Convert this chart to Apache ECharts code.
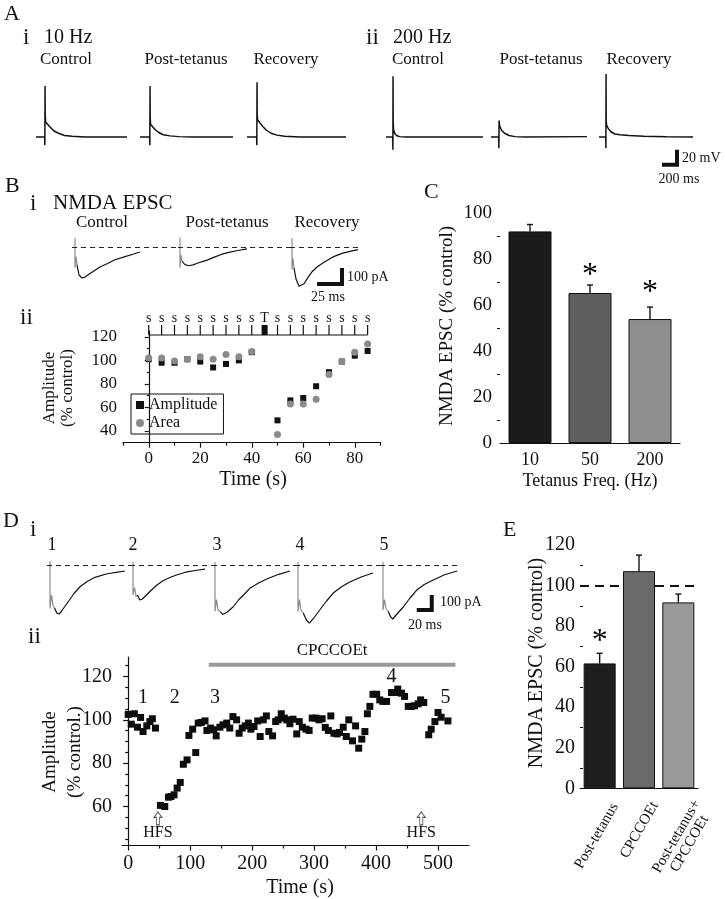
<!DOCTYPE html>
<html><head><meta charset="utf-8">
<script src="https://cdn.jsdelivr.net/npm/echarts@6.0.0/dist/echarts.min.js"></script>
<style>html,body{margin:0;padding:0;background:#fff;}#chart{width:725px;height:899px;}</style>
</head><body><div id="chart"></div>
<script>
// ================= DATA =================
// Panel A: membrane potential traces, [time (ms) from trace start, mV relative to rest]
const a10Control = [[0,0],[116,0],[118,-11],[120,-11],[121,68],[123,30],[128,20],[150,18],[190,13],[240,8],[300,5],[380,2],[480,1],[650,0],[1213,0]];
const a10Post    = [[0,0],[128,0],[131,-11],[133,-11],[134,68],[136,26],[141,17],[165,14],[200,10],[250,6],[310,3],[400,1.5],[520,0.5],[700,0],[1240,0]];
const a10Recov   = [[0,0],[128,0],[131,-11],[133,-11],[134,73],[136,30],[141,23],[170,19],[210,14],[260,9],[320,5],[400,2.5],[500,1],[700,0],[1320,0]];
const a200Control= [[0,0],[90,0],[92,-17],[93,-17],[94,81],[96,20],[100,10],[115,5],[140,2],[180,0.5],[260,0],[1293,0]];
const a200Post   = [[0,0],[103,0],[105,-15],[107,-15],[108,22],[115,15],[140,9],[180,5],[240,2],[320,0.5],[450,0],[1280,0.5]];
const a200Recov  = [[0,0],[90,0],[92,-15],[93,-15],[94,84],[96,22],[101,16],[125,11],[160,7],[210,4],[280,3],[400,2],[600,1],[900,0.3],[1253,0]];
const aScaleBar  = [[840,-37],[1040,-37],[1040,-17]]; // 200 ms, 20 mV

// Panel B i: NMDA EPSC traces, [ms from stimulus, pA]
const bCtrlArtifact = [[0,55],[0,-130],[1,-60],[2,-110]];
const bCtrlTrace    = [[2,-110],[4,-175],[7,-194],[10,-188],[15,-165],[20,-145],[25,-125],[32,-105],[40,-80],[50,-60],[58,-45],[65,-31]];
const bPostArtifact = [[0,60],[0,-130],[1,-50],[2,-90]];
const bPostTrace    = [[2,-90],[5,-110],[9,-117],[13,-112],[18,-100],[23,-90],[25,-95],[27,-82],[35,-62],[42,-45],[50,-32],[58,-22],[67,-12]];
const bRecArtifact  = [[0,55],[0,-140],[1,-70],[2,-130]];
const bRecTrace     = [[2,-130],[4,-200],[7,-245],[9,-250],[12,-230],[16,-190],[20,-155],[25,-125],[32,-95],[41,-62],[50,-40],[58,-27],[66,-16]];
const bScaleBar     = [[25,-231],[50,-231],[50,-131]]; // 25 ms, 100 pA

// Panel B ii
const bTimes     = [0,5,10,15,20,25,30,35,40,50,55,60,65,70,75,80,85];
const bAmplitude = [101,98,98,101,99,94,97,100,107,49,66,68,78,90,99,104,108];
const bArea      = [102,102,99.5,101,103,101,105,103,107.5,37,63,63,67,88,99,107,114];
const bStimTimes = [0,5,10,15,20,25,30,35,40,45,50,55,60,65,70,75,80,85];
const bStimLabels= ['s','s','s','s','s','s','s','s','s','T','s','s','s','s','s','s','s','s'];

// Panel C
const cCategories = ['10','50','200'];
const cMeans  = [92, 65.2, 53.9];
const cErrors = [3, 3.5, 5.2];
const cStars  = [[1,75],[2,67.4]];

// Panel D i: traces [ms from stimulus, pA]
const dArtifacts = [
  [[0,25],[0,-290],[2,-200],[4,-270],[6,-285]],
  [[0,20],[0,-200],[2,-150],[4,-210],[6,-200]],
  [[0,20],[0,-310],[2,-230],[4,-300],[7,-310]],
  [[0,20],[0,-310],[2,-230],[4,-300],[7,-320]],
  [[0,20],[0,-300],[2,-230],[4,-290],[7,-310]]
];
const dTraces = [
  [[6,-285],[9,-320],[12,-327],[15,-310],[20,-275],[25,-240],[32,-190],[40,-145],[50,-108],[60,-82],[75,-60],[90,-48],[100,-40]],
  [[6,-200],[9,-233],[12,-228],[18,-200],[25,-165],[32,-133],[40,-105],[50,-82],[58,-67],[70,-48],[85,-35],[96,-27]],
  [[7,-310],[10,-330],[12,-333],[16,-315],[24,-280],[32,-230],[40,-190],[47,-153],[58,-120],[69,-93],[85,-62],[100,-40]],
  [[7,-320],[11,-365],[15,-387],[20,-360],[29,-300],[38,-240],[47,-187],[58,-145],[69,-113],[85,-78],[100,-53]],
  [[7,-310],[10,-345],[13,-360],[18,-330],[27,-280],[36,-220],[45,-167],[55,-130],[67,-100],[82,-65],[99,-40]]
];
const dTraceLabels = ['1','2','3','4','5'];
const dScaleBar = [[45,-300],[65,-300],[65,-200]]; // 20 ms, 100 pA

// Panel D ii
const dTimes = [0,5,10,15,20,24,30,35,39,44,
  52,59,65,69,74,79,84,89,95,98,104,109,113,118,124,
  127,133,138,142,148,153,159,164,169,175,179,184,189,194,198,203,209,213,218,223,227,233,238,242,247,252,256,261,266,272,276,281,287,292,297,303,308,313,318,323,327,332,337,341,347,352,356,362,367,372,377,382,386,
  390,395,401,406,411,417,425,430,435,441,446,452,457,462,468,472,477,
  485,489,495,500,505,516];
const dAmplitude = [102.5,98,102.8,96.6,101.1,94.6,97.2,99.2,100.5,96.2,
  60.5,60,64.3,64.6,65.4,68.5,71.1,79.5,81.5,92.8,95.7,84.9,98.5,98.8,99.5,
  95.1,96.2,95.4,92.6,96.6,97.7,98.5,96.2,101.5,100,93.8,96.2,97.2,98.5,95.7,96.9,99.5,92.3,100,101.8,94.6,92.6,99.2,100,102.8,100.8,100,98.2,100.3,93.5,99.2,96.6,95.7,95.1,100.8,100.8,100,100.5,96.5,95.1,101.8,93.8,93.5,94.2,96.6,92.3,100,90.3,97.2,86.9,91.1,94.6,102.8,
  106.2,111.8,111.8,109.2,108.5,108.5,112.6,112.6,114.2,112.3,110.8,106.2,106.2,106.5,107.4,109.2,108,
  93.1,95.7,99.2,103.4,101.2,99.5];
const dDrugSpan = [130, 528];
const dDrugLevel = 125.4;
const dHfsTimes = [48, 473];
const dMarkers = [[24,110,'1'],[75,110,'2'],[140,110,'3'],[425,120,'4'],[512,110,'5']];

// Panel E
const eCategories = ['Post-tetanus','CPCCOEt','Post-tetanus+\nCPCCOEt'];
const eMeans  = [61.6, 107.1, 91.7];
const eErrors = [5, 7.9, 4.1];
const eStars  = [[0,74.8]];

// ================= BUILD =================
const FONT = 'Liberation Serif';
const INK = '#111';
const grids = [], xAxis = [], yAxis = [], series = [], graphic = [];

function addGrid(left, top, width, height){
  grids.push({left, top, width, height});
  return grids.length - 1;
}
function hidden(gi, xmin, xmax, ymin, ymax){
  xAxis.push({type:'value', gridIndex:gi, min:xmin, max:xmax, show:false});
  yAxis.push({type:'value', gridIndex:gi, min:ymin, max:ymax, show:false});
  return [xAxis.length-1, yAxis.length-1];
}
function line(ax, data, color, width, extra){
  series.push(Object.assign({type:'line', xAxisIndex:ax[0], yAxisIndex:ax[1], data,
    symbol:'none', clip:false, silent:true, lineStyle:{color, width}}, extra||{}));
}
const dashedZero = {markLine:{silent:true, symbol:['none','none'], label:{show:false},
  lineStyle:{type:[5,4], color:'#222', width:1}, data:[{yAxis:0}]}};

function txt(x, y, s, size, align, rot){
  graphic.push({type:'text', x, y, rotation: rot||0, silent:true,
    style:{text:s, fontFamily:FONT, fontSize:size, fill:INK, lineHeight:size,
      align: align||'left', textAlign: align||'left', verticalAlign:'middle', textVerticalAlign:'middle'}});
}

// ---- Panel A traces ----
const mspx = 0.075, mvpx = 0.75, aBase = 137, aMin = -40, aMax = 90;
const aTop = aBase - aMax*mvpx, aH = (aMax-aMin)*mvpx;
const aSet = [[36,91,a10Control],[140,93,a10Post],[247,99,a10Recov],[386,97,a200Control],[491,96,a200Post],[599,94,a200Recov]];
aSet.forEach(([left,w,data],i)=>{
  const gi = addGrid(left, aTop, w, aH);
  const ax = hidden(gi, 0, w/mspx, aMin, aMax);
  line(ax, data, '#111', 1.5);
  if (i === 5) line(ax, aScaleBar, '#111', 4, {lineStyle:{color:'#111', width:4, cap:'butt', join:'miter'}});
});

// ---- Panel B i traces ----
const pApx = 0.16, bBase = 247, bMin = -300, bMax = 100;
const bTop = bBase - bMax*pApx, bH = (bMax-bMin)*pApx;
const bSet = [[72,106,3,bCtrlArtifact,bCtrlTrace],[178,112,2,bPostArtifact,bPostTrace],[290,72,2,bRecArtifact,bRecTrace]];
bSet.forEach(([left,w,pre,art,tr],i)=>{
  const gi = addGrid(left, bTop, w, bH);
  const ax = hidden(gi, -pre, w-pre, bMin, bMax);
  line(ax, art, '#8c8c8c', 1.2);
  line(ax, tr, '#111', 1.2, dashedZero);
  if (i === 2) line(ax, bScaleBar, '#111', 4, {lineStyle:{color:'#111', width:4, cap:'butt', join:'miter'}});
});

// ---- Panel D i traces ----
const dmspx = 0.75, dpApx = 0.15, dBase = 565, dMin = -450, dMax = 150;
const dTop = dBase - dMax*dpApx, dH = (dMax-dMin)*dpApx;
const dLefts = [[47,83],[130,82],[212,83],[295,85],[380,80]];
dLefts.forEach(([left,w],i)=>{
  const gi = addGrid(left, dTop, w, dH);
  const ax = hidden(gi, -4, -4 + w/dmspx, dMin, dMax);
  line(ax, dArtifacts[i], '#8c8c8c', 1.2);
  line(ax, dTraces[i], '#111', 1.2, dashedZero);
  if (i === 4) line(ax, dScaleBar, '#111', 4, {lineStyle:{color:'#111', width:4, cap:'butt', join:'miter'}});
});

// common axis styles
const axLine = {lineStyle:{color:'#111', width:1.2}};
function tickStyle(len, inside){ return {length:len, inside:!!inside, lineStyle:{color:'#111', width:1.2}}; }
const solid = {color:'#111', opacity:1};

// ---- Panel B ii header (stimulus protocol) ----
{
  const gi = addGrid(123, 312, 257.5, 23);
  const ax = hidden(gi, -10, 90, 0, 1);
  line(ax, [[bStimTimes[0],0],[bStimTimes[bStimTimes.length-1],0]], '#111', 1.2);
  series.push({type:'scatter', xAxisIndex:ax[0], yAxisIndex:ax[1], silent:true, clip:false,
    data: bStimTimes.map(t=>[t,0]), symbol:'rect',
    symbolSize:(v,p)=> bStimLabels[p.dataIndex]==='T' ? [6,10] : [1.2,10],
    symbolOffset:[0,-5], itemStyle:solid,
    label:{show:true, position:'top', distance:0, formatter:p=>bStimLabels[p.dataIndex],
      fontFamily:FONT, fontSize:14, color:INK}});
}

// ---- Panel B ii main ----
{
  const gi = addGrid(123, 331, 257.5, 111.7);
  xAxis.push({type:'value', gridIndex:gi, min:-10, max:90, axisLine:axLine, splitLine:{show:false},
    axisTick:Object.assign(tickStyle(5), {customValues:[0,20,40,60,80]}),
    axisLabel:{customValues:[0,20,40,60,80], fontFamily:FONT, fontSize:17, color:INK, margin:7}});
  const xi = xAxis.length-1;
  xAxis.push({type:'value', gridIndex:gi, position:'bottom', min:-10, max:90, axisLine:{show:false}, splitLine:{show:false},
    axisTick:Object.assign(tickStyle(3), {customValues:[-10,10,30,50,70,90]}), axisLabel:{show:false}});
  yAxis.push({type:'value', gridIndex:gi, min:30, max:125, axisLine:axLine, splitLine:{show:false},
    axisTick:Object.assign(tickStyle(4), {customValues:[40,60,80,100,120]}),
    axisLabel:{customValues:[40,60,80,100,120], fontFamily:FONT, fontSize:17, color:INK, margin:6}});
  const yi = yAxis.length-1;
  yAxis.push({type:'value', gridIndex:gi, position:'left', min:30, max:125, axisLine:{show:false}, splitLine:{show:false},
    axisTick:Object.assign(tickStyle(2), {customValues:[50,70,90,110]}), axisLabel:{show:false}});
  series.push({type:'scatter', name:'Amplitude', xAxisIndex:xi, yAxisIndex:yi, symbol:'rect', symbolSize:6,
    itemStyle:{color:'#111', opacity:1}, data:bTimes.map((t,i)=>[t,bAmplitude[i]])});
  series.push({type:'scatter', name:'Area', xAxisIndex:xi, yAxisIndex:yi, symbol:'circle', symbolSize:7,
    itemStyle:{color:'#8a8a8a', opacity:1}, data:bTimes.map((t,i)=>[t,bArea[i]])});
}

// error bar renderer
function errorBars(xi, yi, means, errs, capW){
  series.push({type:'custom', xAxisIndex:xi, yAxisIndex:yi, silent:true, z:5,
    data: means.map((m,i)=>[i, m, m+errs[i]]),
    renderItem:(params, api)=>{
      const lo = api.coord([api.value(0), api.value(1)]);
      const hi = api.coord([api.value(0), api.value(2)]);
      return {type:'group', children:[
        {type:'line', shape:{x1:lo[0], y1:lo[1], x2:hi[0], y2:hi[1]}, style:{stroke:'#111', lineWidth:1.4}},
        {type:'line', shape:{x1:hi[0]-capW/2, y1:hi[1], x2:hi[0]+capW/2, y2:hi[1]}, style:{stroke:'#111', lineWidth:1.4}}
      ]};
    }});
}
function stars(xi, yi, data){
  series.push({type:'scatter', xAxisIndex:xi, yAxisIndex:yi, silent:true, symbolSize:0, data, itemStyle:solid,
    label:{show:true, position:'inside', formatter:'*', fontFamily:FONT, fontSize:32, color:'#000', opacity:1, offset:[0,5]}});
}

// ---- Panel C ----
{
  const gi = addGrid(500, 213, 180, 230);
  xAxis.push({type:'category', gridIndex:gi, data:cCategories, axisLine:axLine, axisTick:{show:false},
    axisLabel:{fontFamily:FONT, fontSize:18, color:INK, margin:8}});
  const xi = xAxis.length-1;
  yAxis.push({type:'value', gridIndex:gi, min:0, max:100, interval:20, axisLine:axLine, splitLine:{show:false},
    axisTick:tickStyle(5), minorTick:{show:true, splitNumber:2, length:3, lineStyle:{color:'#111'}},
    axisLabel:{fontFamily:FONT, fontSize:19, color:INK, margin:8}});
  const yi = yAxis.length-1;
  const cols = ['#1b1b1b','#5f5f5f','#8e8e8e'];
  series.push({type:'bar', xAxisIndex:xi, yAxisIndex:yi, barWidth:43,
    data:cMeans.map((v,i)=>({value:v, itemStyle:{color:cols[i], borderColor:'#111', borderWidth:1}}))});
  errorBars(xi, yi, cMeans, cErrors, 6);
  stars(xi, yi, cStars);
}

// ---- Panel D ii ----
{
  const gi = addGrid(122, 657, 347, 188.5);
  xAxis.push({type:'value', gridIndex:gi, min:-10, max:550, axisLine:axLine, splitLine:{show:false},
    axisTick:Object.assign(tickStyle(5), {customValues:[0,100,200,300,400,500]}),
    axisLabel:{customValues:[0,100,200,300,400,500], fontFamily:FONT, fontSize:20, color:INK, margin:8}});
  const xi = xAxis.length-1;
  xAxis.push({type:'value', gridIndex:gi, position:'bottom', min:-10, max:550, axisLine:{show:false}, splitLine:{show:false},
    axisTick:Object.assign(tickStyle(3), {customValues:[50,150,250,350,450]}), axisLabel:{show:false}});
  yAxis.push({type:'value', gridIndex:gi, min:42, max:129, axisLine:axLine, splitLine:{show:false},
    axisTick:Object.assign(tickStyle(5), {customValues:[60,80,100,120]}),
    axisLabel:{customValues:[60,80,100,120], fontFamily:FONT, fontSize:20, color:INK, margin:10}});
  const yi = yAxis.length-1;
  yAxis.push({type:'value', gridIndex:gi, position:'left', min:42, max:129, axisLine:{show:false}, splitLine:{show:false},
    axisTick:Object.assign(tickStyle(3), {customValues:[45,50,55,65,70,75,85,90,95,105,110,115,125]}), axisLabel:{show:false}});
  series.push({type:'scatter', xAxisIndex:xi, yAxisIndex:yi, symbol:'rect', symbolSize:7,
    itemStyle:{color:'#0d0d0d', opacity:1}, data:dTimes.map((t,i)=>[t,dAmplitude[i]])});
  series.push({type:'line', xAxisIndex:xi, yAxisIndex:yi, symbol:'none', silent:true,
    lineStyle:{color:'#9a9a9a', width:4}, data:dDrugSpan.map(t=>[t,dDrugLevel])});
  series.push({type:'scatter', xAxisIndex:xi, yAxisIndex:yi, silent:true, symbolSize:0, itemStyle:solid,
    data:[[(dDrugSpan[0]+dDrugSpan[1])/2, dDrugLevel]],
    label:{show:true, position:'top', distance:6, formatter:'CPCCOEt', fontFamily:FONT, fontSize:17, color:INK}});
  series.push({type:'scatter', xAxisIndex:xi, yAxisIndex:yi, silent:true, symbolSize:0, itemStyle:solid,
    data:dMarkers, label:{show:true, position:'inside', formatter:p=>p.value[2], fontFamily:FONT, fontSize:20, color:INK}});
  series.push({type:'scatter', xAxisIndex:xi, yAxisIndex:yi, silent:true,
    symbol:'path://M4,0 L8,5 L5.5,5 L5.5,12 L2.5,12 L2.5,5 L0,5 Z', symbolSize:[8,13],
    itemStyle:{color:'#fff', borderColor:'#555', borderWidth:1, opacity:1}, data:dHfsTimes.map(t=>[t,54.5])});
  series.push({type:'scatter', xAxisIndex:xi, yAxisIndex:yi, silent:true, symbolSize:0, itemStyle:solid,
    data:dHfsTimes.map(t=>[t,47.8]), label:{show:true, position:'inside', formatter:'HFS', fontFamily:FONT, fontSize:16, color:INK}});
}

// ---- Panel E ----
{
  const gi = addGrid(580, 545, 118, 243.3);
  xAxis.push({type:'category', gridIndex:gi, data:eCategories, axisLine:axLine, axisTick:{show:false},
    axisLabel:{show:false}});
  const xi = xAxis.length-1;
  yAxis.push({type:'value', gridIndex:gi, min:0, max:120, interval:20, axisLine:axLine, splitLine:{show:false},
    axisTick:tickStyle(5, true), minorTick:{show:true, splitNumber:2, length:3, lineStyle:{color:'#111'}},
    axisLabel:{fontFamily:FONT, fontSize:20, color:INK, margin:5}});
  const yi = yAxis.length-1;
  const cols = ['#1e1e1e','#6a6a6a','#9a9a9a'];
  series.push({type:'bar', xAxisIndex:xi, yAxisIndex:yi, barWidth:32,
    data:eMeans.map((v,i)=>({value:v, itemStyle:{color:cols[i], borderColor:'#111', borderWidth:1}})),
    markLine:{silent:true, symbol:['none','none'], label:{show:false}, z:1,
      lineStyle:{type:[9,6], color:'#111', width:2}, data:[{yAxis:100}]}});
  errorBars(xi, yi, eMeans, eErrors, 6);
  stars(xi, yi, eStars);
}

// ---- Text ----
// Panel A
txt(4, 14, 'A', 22); txt(23, 38, 'i', 23); txt(44, 38, '10 Hz', 20);
txt(366, 38, 'ii', 23); txt(393, 38, '200 Hz', 20);
txt(66, 60, 'Control', 17, 'center'); txt(186, 60, 'Post-tetanus', 17, 'center'); txt(286, 60, 'Recovery', 17, 'center');
txt(418, 60, 'Control', 17, 'center'); txt(541, 60, 'Post-tetanus', 17, 'center'); txt(639, 60, 'Recovery', 17, 'center');
txt(682, 158, '20 mV', 14); txt(679, 179, '200 ms', 14, 'center');
// Panel B
txt(5, 186, 'B', 22); txt(30, 204, 'i', 23); txt(53, 203, 'NMDA EPSC', 21);
txt(102, 223, 'Control', 17, 'center'); txt(227, 223, 'Post-tetanus', 17, 'center'); txt(327, 223, 'Recovery', 17, 'center');
txt(347, 277, '100 pA', 14); txt(328, 297, '25 ms', 14, 'center');
txt(20, 318, 'ii', 23);
txt(50, 388, 'Amplitude', 17, 'center', Math.PI/2); txt(68, 388, '(% control)', 17, 'center', Math.PI/2);
txt(253, 480, 'Time (s)', 20, 'center');
// Panel C
txt(424, 192, 'C', 22);
txt(447, 326, 'NMDA EPSC (% control)', 19, 'center', Math.PI/2);
txt(590, 481, 'Tetanus Freq. (Hz)', 18, 'center');
// Panel D
txt(3, 521, 'D', 22); txt(30, 530, 'i', 23);
txt(52, 545, '1', 18, 'center'); txt(133, 545, '2', 18, 'center'); txt(217, 545, '3', 18, 'center');
txt(300, 545, '4', 18, 'center'); txt(384, 545, '5', 18, 'center');
txt(440, 602, '100 pA', 14); txt(425, 625, '20 ms', 14, 'center');
txt(28, 637, 'ii', 23);
txt(50, 752, 'Amplitude', 19, 'center', Math.PI/2); txt(75, 752, '(% control.)', 19, 'center', Math.PI/2);
txt(300, 888, 'Time (s)', 20, 'center');
// Panel E
txt(503, 530, 'E', 22);
txt(537, 663, 'NMDA EPSC (% control)', 20, 'center', Math.PI/2);
// Panel E category labels (rotated)
const eRot = Math.PI/3;
txt(615, 804, eCategories[0], 15, 'right', eRot);
txt(655, 803, eCategories[1], 15, 'right', eRot);
txt(683, 840, eCategories[2], 15, 'center', eRot);

const chart = echarts.init(document.getElementById('chart'), null, {renderer:'canvas'});
chart.setOption({
  animation:false,
  backgroundColor:'#fff',
  textStyle:{fontFamily:FONT},
  grid:grids, xAxis, yAxis, series, graphic,
  legend:{data:[{name:'Amplitude', icon:'rect'},{name:'Area', icon:'circle'}], orient:'vertical',
    left:131, top:394, itemWidth:8, itemHeight:8, itemGap:2, padding:[3,6,3,5],
    borderColor:'#111', borderWidth:1, selectedMode:false,
    textStyle:{fontFamily:FONT, fontSize:16, color:INK}}
});
</script></body></html>
